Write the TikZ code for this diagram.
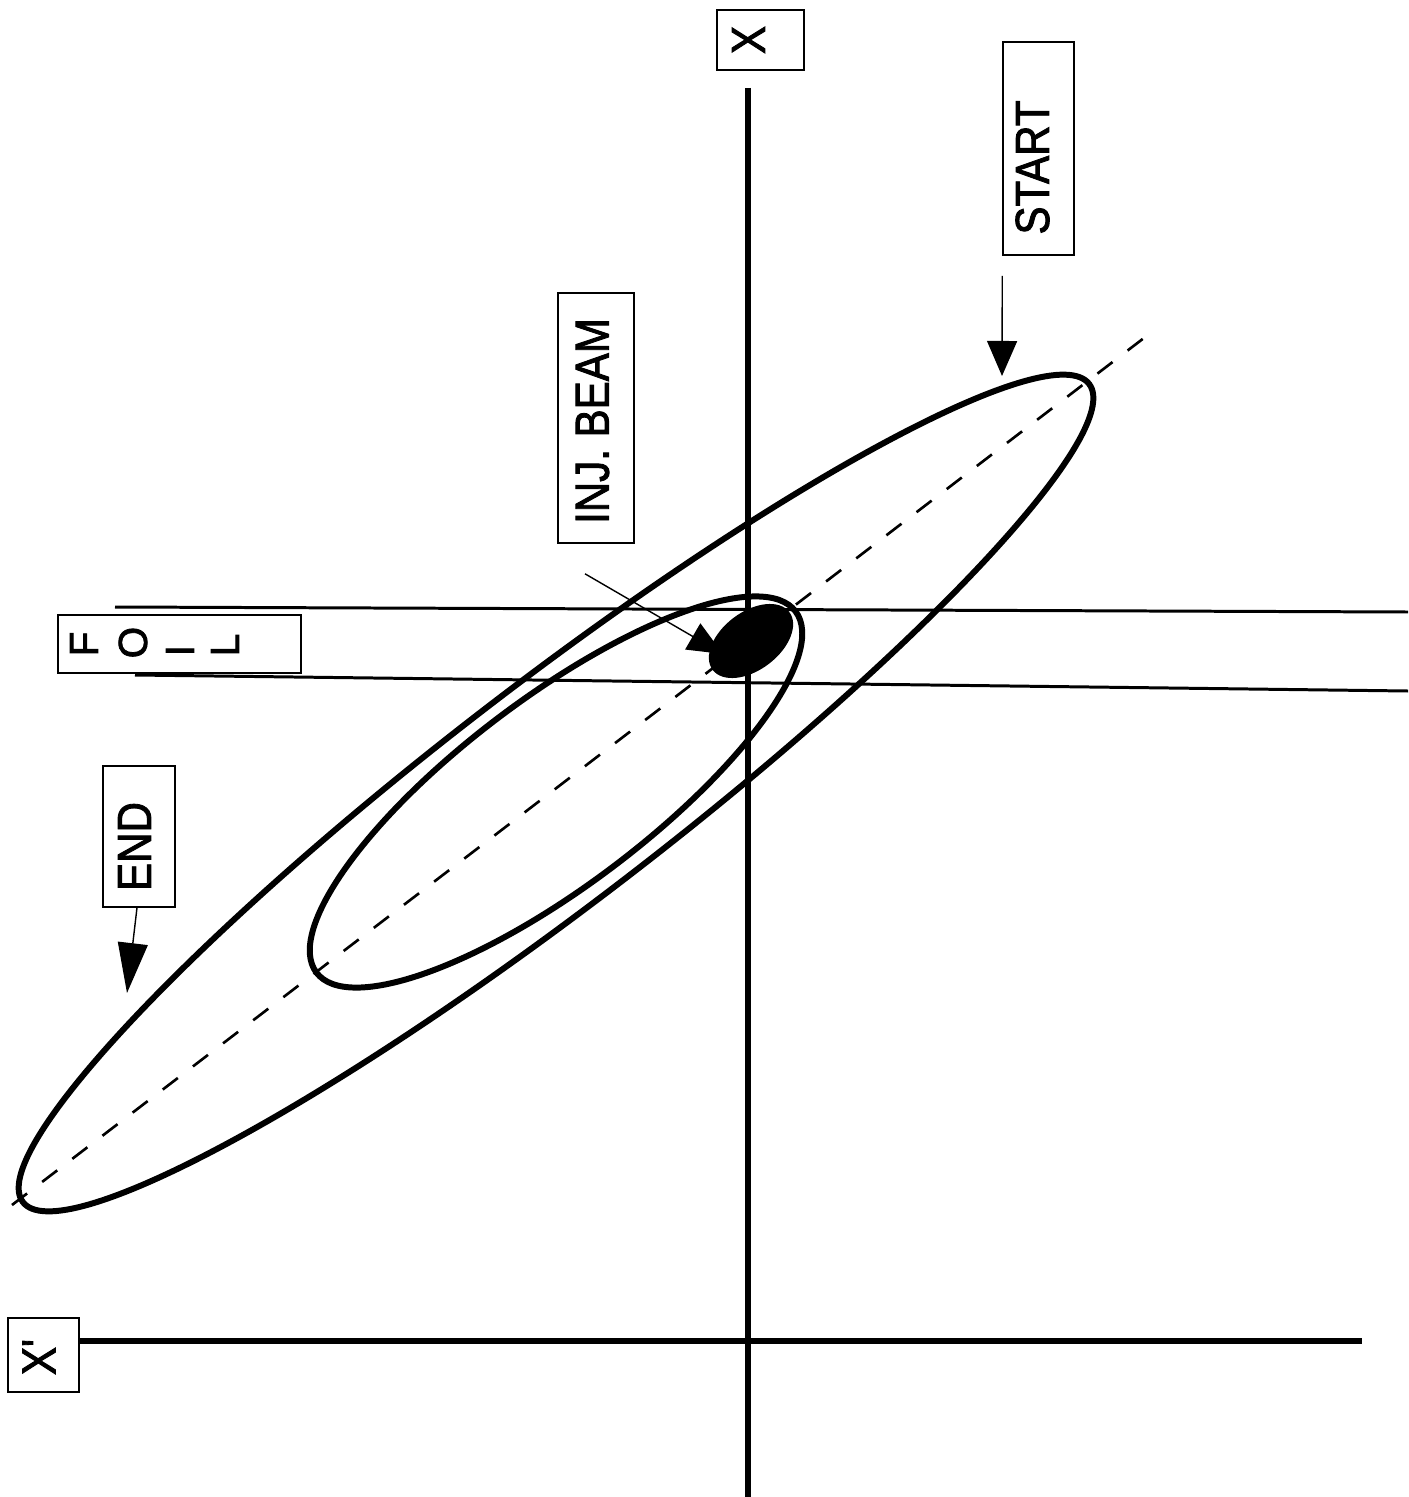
\documentclass[tikz,border=0pt]{standalone}
\usepackage{fontspec}
\usepackage{graphicx}
\usetikzlibrary{arrows.meta}
\newfontfamily\labfont[FakeBold=2]{Liberation Sans}
\tikzset{
  thickline/.style={line width=1.7pt},
  foilline/.style={line width=0.85pt},
  boxnode/.style={draw, line width=0.4pt, inner sep=0pt, rectangle},
  labtext/.style={font=\labfont\fontsize{13.6}{16}\selectfont, rotate=90, inner sep=0pt},
  foiltext/.style={font=\labfont\fontsize{11.5}{13}\selectfont, rotate=90, inner sep=0pt, anchor=west},
  ptr/.style={line width=0.4pt, -{Triangle[length=0.35cm,width=0.30cm]}},
  longptr/.style={line width=0.4pt, -{Triangle[length=0.50cm,width=0.30cm]}},
  axisdash/.style={line width=0.75pt, dash pattern=on 5.4pt off 5.4pt},
}
\begin{document}
\begin{tikzpicture}[x=0.01cm,y=-0.01cm]
\fill[white] (0,0) rectangle (1408,1497);
\useasboundingbox (0,0) rectangle (1408,1497);

% axes
\coordinate (vtop) at (748,88);
\coordinate (vbot) at (748,1497);
\draw[line width=1.6pt] (vtop) -- (vbot);
\coordinate (hl) at (80,1341);
\coordinate (hr) at (1362,1341);
\draw[thickline] (hl) -- (hr);

% foil lines
\coordinate (f1a) at (115,607);
\coordinate (f1b) at (1408,612);
\coordinate (f2a) at (135,675);
\coordinate (f2b) at (1408,691);
\draw[foilline] (f1a) -- (f1b);
\draw[foilline] (f2a) -- (f2b);

% dashed major axis
\coordinate (dA) at (12,1205);
\coordinate (dB) at (1157,328);
\draw[axisdash] (dA) -- (dB);

% ellipses
\draw[thickline, rotate around={37.5:(556,793)}] (556,793) ellipse [x radius=672, y radius=110];
\draw[thickline, rotate around={37:(556,792)}] (556,792) ellipse [x radius=300, y radius=94];
\fill[rotate around={37:(751,641)}] (751,641) ellipse [x radius=48, y radius=29];

% boxes and labels
\node[boxnode, minimum width=0.87cm, minimum height=0.60cm] (xbox) at (760.5,40) {};
\node[labtext] (xlab) at (748.5,40) {\scalebox{0.88}[1]{X}};

\node[boxnode, minimum width=0.71cm, minimum height=0.74cm] (xpbox) at (43.5,1355) {};
\node[labtext] (xplab) at (39,1357) {\scalebox{0.88}[1]{X\textquotesingle}};

\node[boxnode, minimum width=0.71cm, minimum height=2.13cm] (startbox) at (1038.5,148.5) {};
\node[labtext] (startlab) at (1032.5,167.5) {\scalebox{0.88}[1]{START}};

\node[boxnode, minimum width=0.76cm, minimum height=2.50cm] (injbox) at (596,418) {};
\node[labtext] (injlab) at (592.5,421) {\scalebox{0.88}[1]{INJ. BEAM}};

\node[boxnode, minimum width=0.72cm, minimum height=1.41cm] (endbox) at (139,836.5) {};
\node[labtext] (endlab) at (134.5,846.5) {\scalebox{0.88}[1]{END}};

\node[boxnode, minimum width=2.43cm, minimum height=0.58cm] (foilbox) at (179.5,644) {};
\node[foiltext] (fF) at (84,657) {F};
\node[foiltext] (fO) at (133,659) {O};
\node[foiltext] (fI) at (180,657) {I};
\node[foiltext] (fL) at (225,657) {L};

% arrows
\coordinate (starttip) at (1002,376);
\coordinate (endtip) at (127,993);
\coordinate (injtip) at (723,654);
\draw[ptr] ([yshift=-0.2cm]startbox.south west) -- (starttip);
\draw[longptr] ([xshift=-0.02cm]endbox.south) -- (endtip);
\draw[ptr] ([xshift=-0.11cm,yshift=-0.30cm]injbox.south) -- (injtip);
\end{tikzpicture}
\end{document}
